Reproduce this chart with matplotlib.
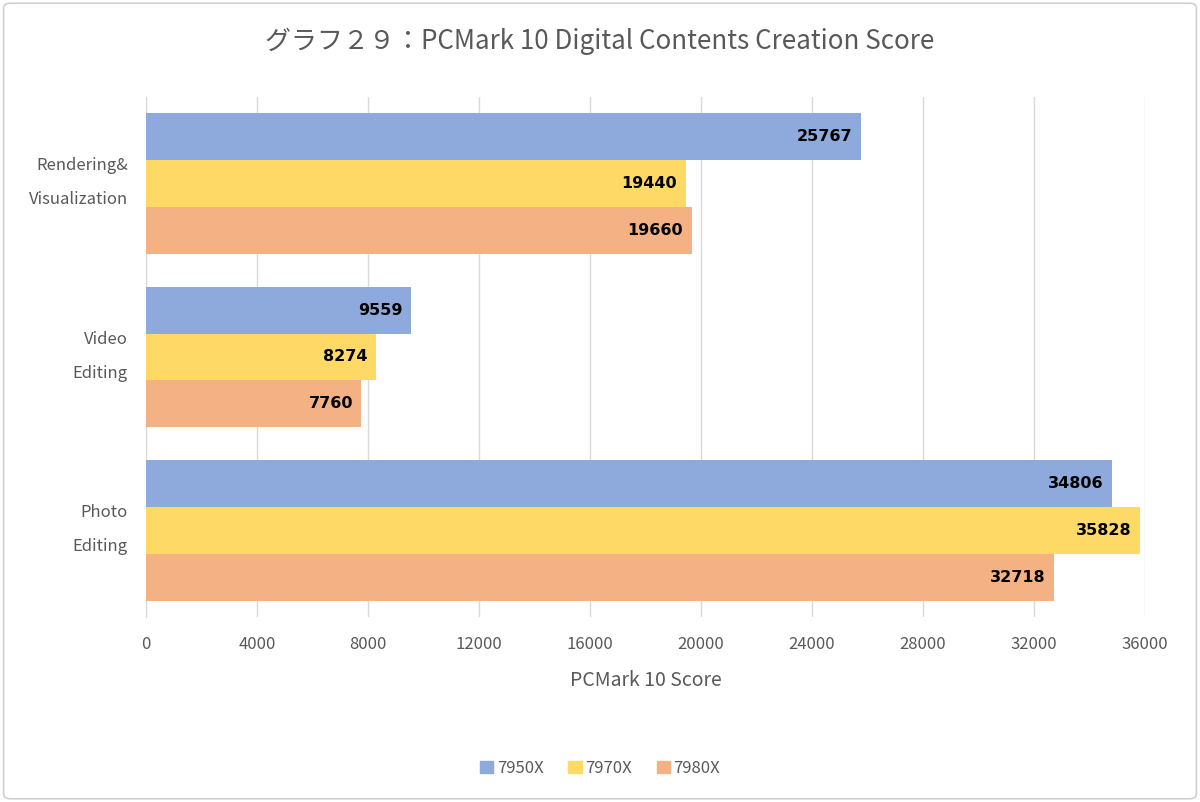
import matplotlib
matplotlib.use("Agg")
import matplotlib.pyplot as plt
import numpy as np
from matplotlib.patches import FancyBboxPatch

plt.rcParams["font.family"] = ["Noto Sans CJK JP", "DejaVu Sans"]

# data, top to bottom as shown in the chart
categories = ["Rendering&\nVisualization", "Video\nEditing", "Photo\nEditing"]
series_names = ["7950X", "7970X", "7980X"]
scores = {
    "7950X": [25767, 9559, 34806],
    "7970X": [19440, 8274, 35828],
    "7980X": [19660, 7760, 32718],
}
colors = ["#8EA9DB", "#FFD966", "#F4B183"]
x_ticks = [0, 4000, 8000, 12000, 16000, 20000, 24000, 28000, 32000, 36000]

TEXT_GRAY = "#595959"

fig = plt.figure(figsize=(12, 8.02), dpi=100)
fig.patch.set_facecolor("white")

# light frame around the whole chart
frame = FancyBboxPatch(
    (0.003, 0.004), 0.994, 0.992,
    boxstyle="round,pad=0,rounding_size=0.006",
    transform=fig.transFigure, facecolor="none",
    edgecolor="#D0D0D0", linewidth=1.2,
)
fig.add_artist(frame)

ax = fig.add_axes([0.1217, 0.2307, 0.8325, 0.6484])

bar_h = 0.27
n_cat = len(categories)
positions = np.arange(n_cat)[::-1].astype(float)

for i, name in enumerate(series_names):
    y = positions + (1 - i) * bar_h
    bars = ax.barh(y, scores[name], height=bar_h, color=colors[i], zorder=3)
    for bar, value in zip(bars, scores[name]):
        ax.text(
            bar.get_width() - 300,
            bar.get_y() + bar.get_height() / 2,
            str(value),
            ha="right", va="center", family="DejaVu Sans",
            fontsize=11.5, fontweight="bold", color="black", zorder=4,
        )

ax.set_xlim(0, 36000)
ax.set_ylim(-0.5, n_cat - 0.5)
ax.set_xticks(x_ticks)
ax.set_xticklabels([str(t) for t in x_ticks])
ax.set_yticks(positions + 0.065)
ax.set_yticklabels(categories, linespacing=2.3)

ax.grid(axis="x", color="#D9D9D9", linewidth=1.0, zorder=0)
for side in ["top", "right", "bottom"]:
    ax.spines[side].set_visible(False)
ax.spines["left"].set_color("#D9D9D9")
ax.tick_params(axis="both", length=0, colors=TEXT_GRAY, labelsize=12)
ax.tick_params(axis="x", pad=14)
ax.tick_params(axis="y", pad=13)

ax.set_xlabel("PCMark 10 Score", fontsize=14, color=TEXT_GRAY, labelpad=12)

fig.text(
    0.5, 0.949, "グラフ２９：PCMark 10 Digital Contents Creation Score",
    ha="center", va="center", fontsize=18.7, color=TEXT_GRAY,
)

handles = [plt.Rectangle((0, 0), 1, 1, color=c) for c in colors]
fig.legend(
    handles, series_names, loc="center", bbox_to_anchor=(0.5, 0.042),
    ncol=3, frameon=False, fontsize=12, labelcolor=TEXT_GRAY,
    handlelength=0.8, handleheight=0.8, handletextpad=0.2, columnspacing=1.5,
)

fig.savefig("out.png", dpi=100)
